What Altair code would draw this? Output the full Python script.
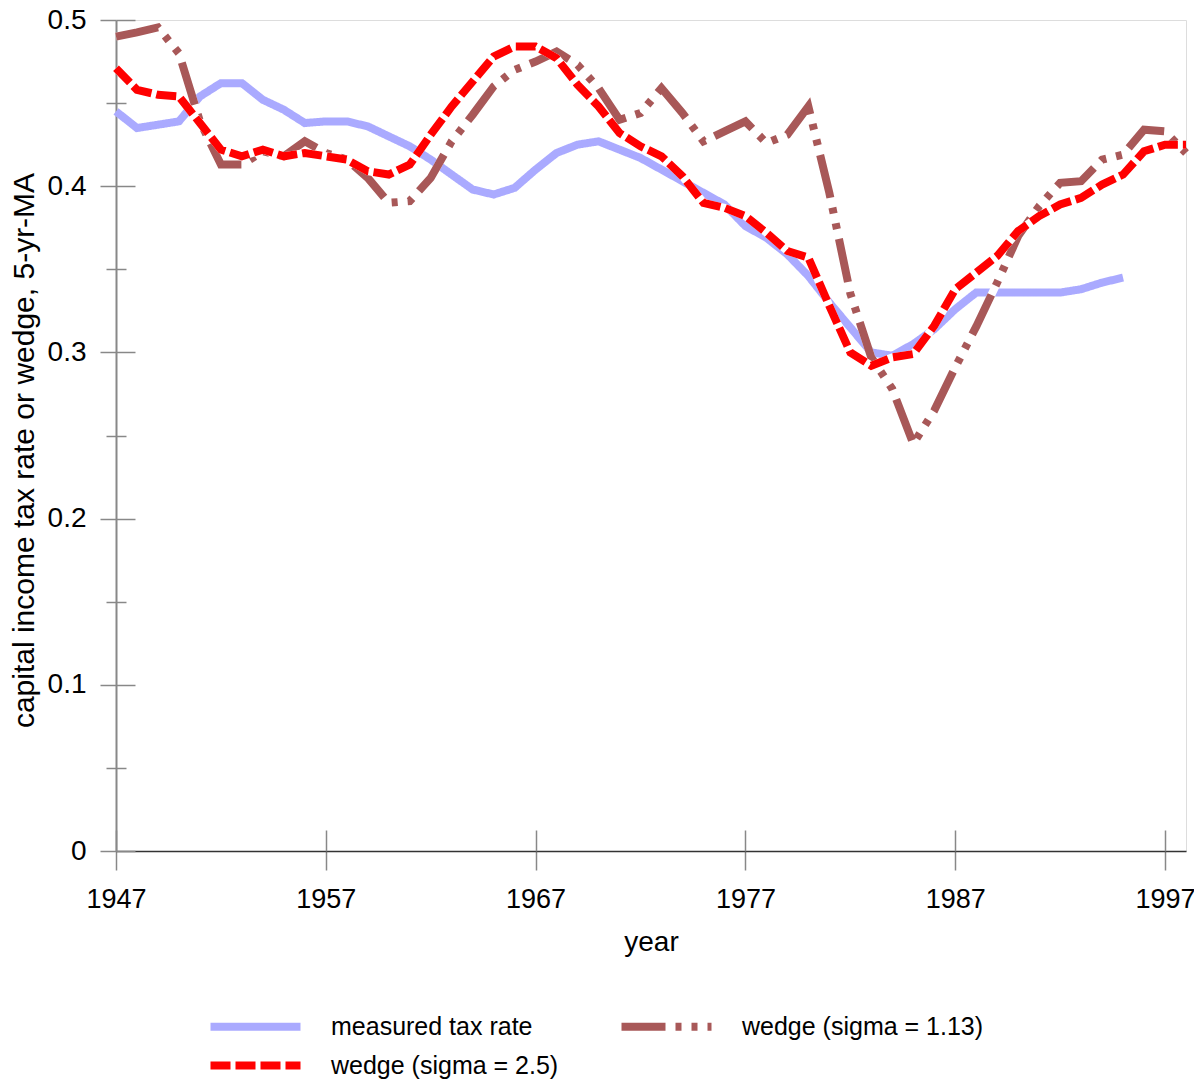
import altair as alt
import pandas as pd

years_all = list(range(1947, 1999))
years_measured = list(range(1947, 1996))

measured_tax_rate = [0.445, 0.435, 0.437, 0.439, 0.454, 0.462, 0.462, 0.452, 0.446, 0.438,
                     0.439, 0.439, 0.436, 0.430, 0.424, 0.416, 0.407, 0.398, 0.395, 0.399,
                     0.410, 0.420, 0.425, 0.427, 0.422, 0.417, 0.410, 0.403, 0.396, 0.389,
                     0.376, 0.369, 0.359, 0.346, 0.330, 0.315, 0.300, 0.298, 0.305, 0.314,
                     0.326, 0.336, 0.336, 0.336, 0.336, 0.336, 0.338, 0.342, 0.345]

wedge_sigma_25 = [0.471, 0.458, 0.455, 0.454, 0.438, 0.422, 0.418, 0.422, 0.418, 0.420,
                  0.418, 0.416, 0.409, 0.407, 0.413, 0.431, 0.448, 0.463, 0.478, 0.484,
                  0.484, 0.477, 0.461, 0.448, 0.432, 0.424, 0.418, 0.406, 0.390, 0.387,
                  0.382, 0.372, 0.361, 0.357, 0.328, 0.300, 0.292, 0.297, 0.299, 0.316,
                  0.338, 0.348, 0.358, 0.373, 0.382, 0.389, 0.393, 0.401, 0.407, 0.421,
                  0.425, 0.425]

wedge_sigma_113 = [0.490, 0.4925, 0.4955, 0.480, 0.439, 0.413, 0.413, 0.421, 0.418, 0.427,
                   0.420, 0.416, 0.405, 0.390, 0.391, 0.405, 0.427, 0.443, 0.460, 0.470,
                   0.475, 0.481, 0.473, 0.459, 0.440, 0.444, 0.459, 0.444, 0.427, 0.433,
                   0.439, 0.426, 0.431, 0.448, 0.396, 0.3355, 0.297, 0.278, 0.245, 0.265,
                   0.291, 0.3155, 0.342, 0.370, 0.388, 0.402, 0.403, 0.416, 0.419, 0.434,
                   0.433, 0.420]

series_names = ["measured tax rate", "wedge (sigma = 1.13)", "wedge (sigma = 2.5)"]
series_colors = ["#aaaaff", "#a85858", "#ff0000"]
series_dashes = [[1, 0], [44, 10, 6, 10, 6, 10], [20, 5]]

x_ticks = [1947, 1957, 1967, 1977, 1987, 1997]
y_major = [0, 0.1, 0.2, 0.3, 0.4, 0.5]
y_minor = [0.05, 0.15, 0.25, 0.35, 0.45]

rows = []
for yr, v in zip(years_measured, measured_tax_rate):
    rows.append({"year": yr, "value": v, "series": series_names[0]})
for yr, v in zip(years_all, wedge_sigma_113):
    rows.append({"year": yr, "value": v, "series": series_names[1]})
for yr, v in zip(years_all, wedge_sigma_25):
    rows.append({"year": yr, "value": v, "series": series_names[2]})
df = pd.DataFrame(rows)

FONT = "Liberation Sans"
xs = alt.Scale(domain=[1947, 1998], nice=False, zero=False)
ys = alt.Scale(domain=[0, 0.5], nice=False)

legend = alt.Legend(
    title=None, orient="none", legendX=82, legendY=994, columns=2,
    columnPadding=46, rowPadding=6, symbolType="M0,0H18", symbolSize=100,
    symbolStrokeWidth=8, labelFontSize=25, labelOffset=108, labelColor="black",
    labelFont=FONT, labelLimit=500, direction="horizontal",
)
color = alt.Color("series:N", scale=alt.Scale(domain=series_names, range=series_colors), legend=legend)
dash = alt.StrokeDash("series:N", scale=alt.Scale(domain=series_names, range=series_dashes), legend=legend)

x_main = alt.Axis(orient="bottom", values=x_ticks, format="d", tickSize=19, tickColor="#888888",
                  tickWidth=1.5, domainColor="#333333", domainWidth=1.5, labelFontSize=27,
                  labelPadding=16, labelFlush=False, labelColor="black", labelFont=FONT,
                  title="year", titleFontSize=28, titleFont=FONT, titleFontWeight="normal",
                  titleColor="black", titlePadding=16, grid=False)
x_inner = alt.Axis(orient="bottom", values=x_ticks, tickSize=21, offset=-21, tickColor="#888888",
                   tickWidth=1.5, labels=False, domain=False, title=None, grid=False)
y_main = alt.Axis(orient="left", values=y_major, format="~g", tickSize=16, tickColor="#888888",
                  tickWidth=1.5, domainColor="#888888", domainWidth=2, labelFontSize=28,
                  labelPadding=14, labelColor="black", labelFont=FONT,
                  title="capital income tax rate or wedge, 5-yr-MA", titleFontSize=30,
                  titleFont=FONT, titleFontWeight="normal", titleColor="black", titlePadding=8,
                  titleY=430, grid=False)
y_inner = alt.Axis(orient="left", values=y_major, tickSize=19, offset=-19, tickColor="#888888",
                   tickWidth=1.5, labels=False, domain=False, title=None, grid=False)
y_minor_ax = alt.Axis(orient="left", values=y_minor, tickSize=20, offset=-10, tickColor="#888888",
                      tickWidth=1.5, labels=False, domain=False, title=None, grid=False)

base = alt.Chart(df)

blue = base.transform_filter(alt.datum.series == series_names[0]).mark_line(strokeWidth=8).encode(
    x=alt.X("year:Q", scale=xs, axis=x_main),
    y=alt.Y("value:Q", scale=ys, axis=y_main),
    color=color, strokeDash=dash,
)
white_brown = base.transform_filter(alt.datum.series == series_names[1]).mark_line(
    strokeWidth=8, color="white").encode(
    x=alt.X("year:Q", scale=xs, axis=x_inner),
    y=alt.Y("value:Q", scale=ys, axis=y_inner),
)
brown = base.transform_filter(alt.datum.series == series_names[1]).mark_line(strokeWidth=8).encode(
    x=alt.X("year:Q", scale=xs, axis=None),
    y=alt.Y("value:Q", scale=ys, axis=y_minor_ax),
    color=color, strokeDash=dash,
)
white_red = base.transform_filter(alt.datum.series == series_names[2]).mark_line(
    strokeWidth=8, color="white").encode(
    x=alt.X("year:Q", scale=xs, axis=None),
    y=alt.Y("value:Q", scale=ys, axis=None),
)
red = base.transform_filter(alt.datum.series == series_names[2]).mark_line(strokeWidth=8).encode(
    x=alt.X("year:Q", scale=xs, axis=None),
    y=alt.Y("value:Q", scale=ys, axis=None),
    color=color, strokeDash=dash,
)

chart = alt.layer(blue, white_brown, brown, white_red, red).resolve_axis(
    x="independent", y="independent"
).properties(
    width=1070, height=831,
    autosize=alt.AutoSizeParams(type="none"),
    padding={"left": 108, "top": 12, "right": 8, "bottom": 229},
).configure_view(stroke=None).configure(font=FONT)

chart.save("out.html", embed_options={"renderer": "svg", "actions": False})
